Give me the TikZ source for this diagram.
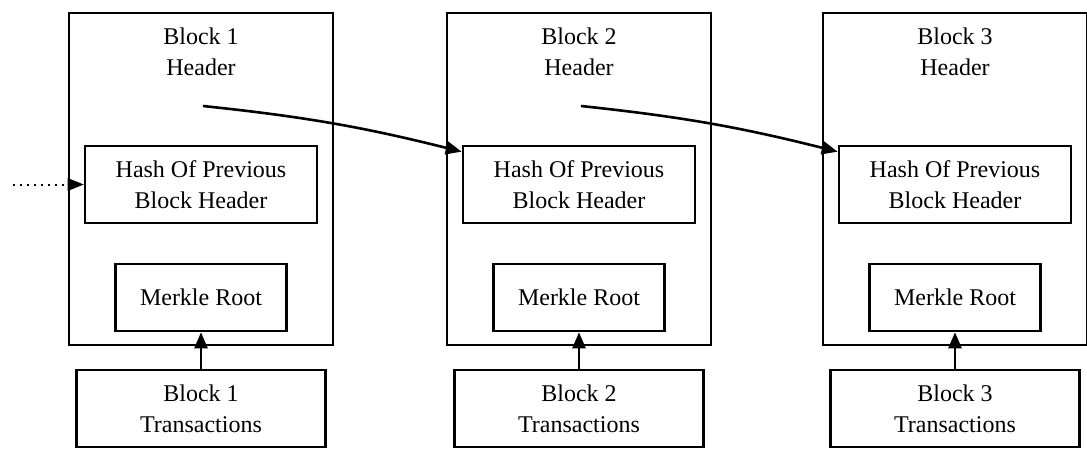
\documentclass[tikz,border=0pt]{standalone}
\usepackage{fontspec}
\setmainfont{Liberation Serif}
\usetikzlibrary{arrows.meta,positioning,calc}

\begin{document}
\begin{tikzpicture}[x=1pt,y=-1pt,
	box/.style={draw,line width=2.6pt,align=center,inner sep=0pt},
	link/.style={line width=2.6pt,-{Triangle[length=16pt,width=13pt]}},
	font=\fontsize{24}{31}\selectfont]
	\useasboundingbox (0,0) rectangle (1087,448);
	\foreach \i/\x in {1/201,2/579,3/955} {
		\node[box,minimum width=264pt,minimum height=332pt] (blk\i) at (\x,179) {};
		\node[align=center]                                (head\i) at (\x,52) {Block \i\\Header};
		\node[box,minimum width=232pt,minimum height=77pt] (hash\i) at (\x,184.5) {Hash Of Previous\\Block Header};
		\node[box,minimum width=171pt,minimum height=67pt] (merkle\i) at (\x,297.5) {Merkle Root};
		\node[box,minimum width=249pt,minimum height=77pt] (tx\i) at (\x,408.5) {Block \i\\Transactions};
		\coordinate (src\i) at (\x+2,106);
		\draw[link] (tx\i) -- (merkle\i);
	}
	\coordinate (start) at (13,184.5);
	\draw[link,line width=2pt,dash pattern=on 1.5pt off 5.5pt,-{Triangle[length=16pt,width=13pt,line width=0pt]}] (start) -- (hash1.west);
	\foreach \i/\j in {1/2,2/3}
		\draw[link] (src\i) to[bend left=4] ([yshift=-7pt]hash\j.north west);
\end{tikzpicture}
\end{document}
